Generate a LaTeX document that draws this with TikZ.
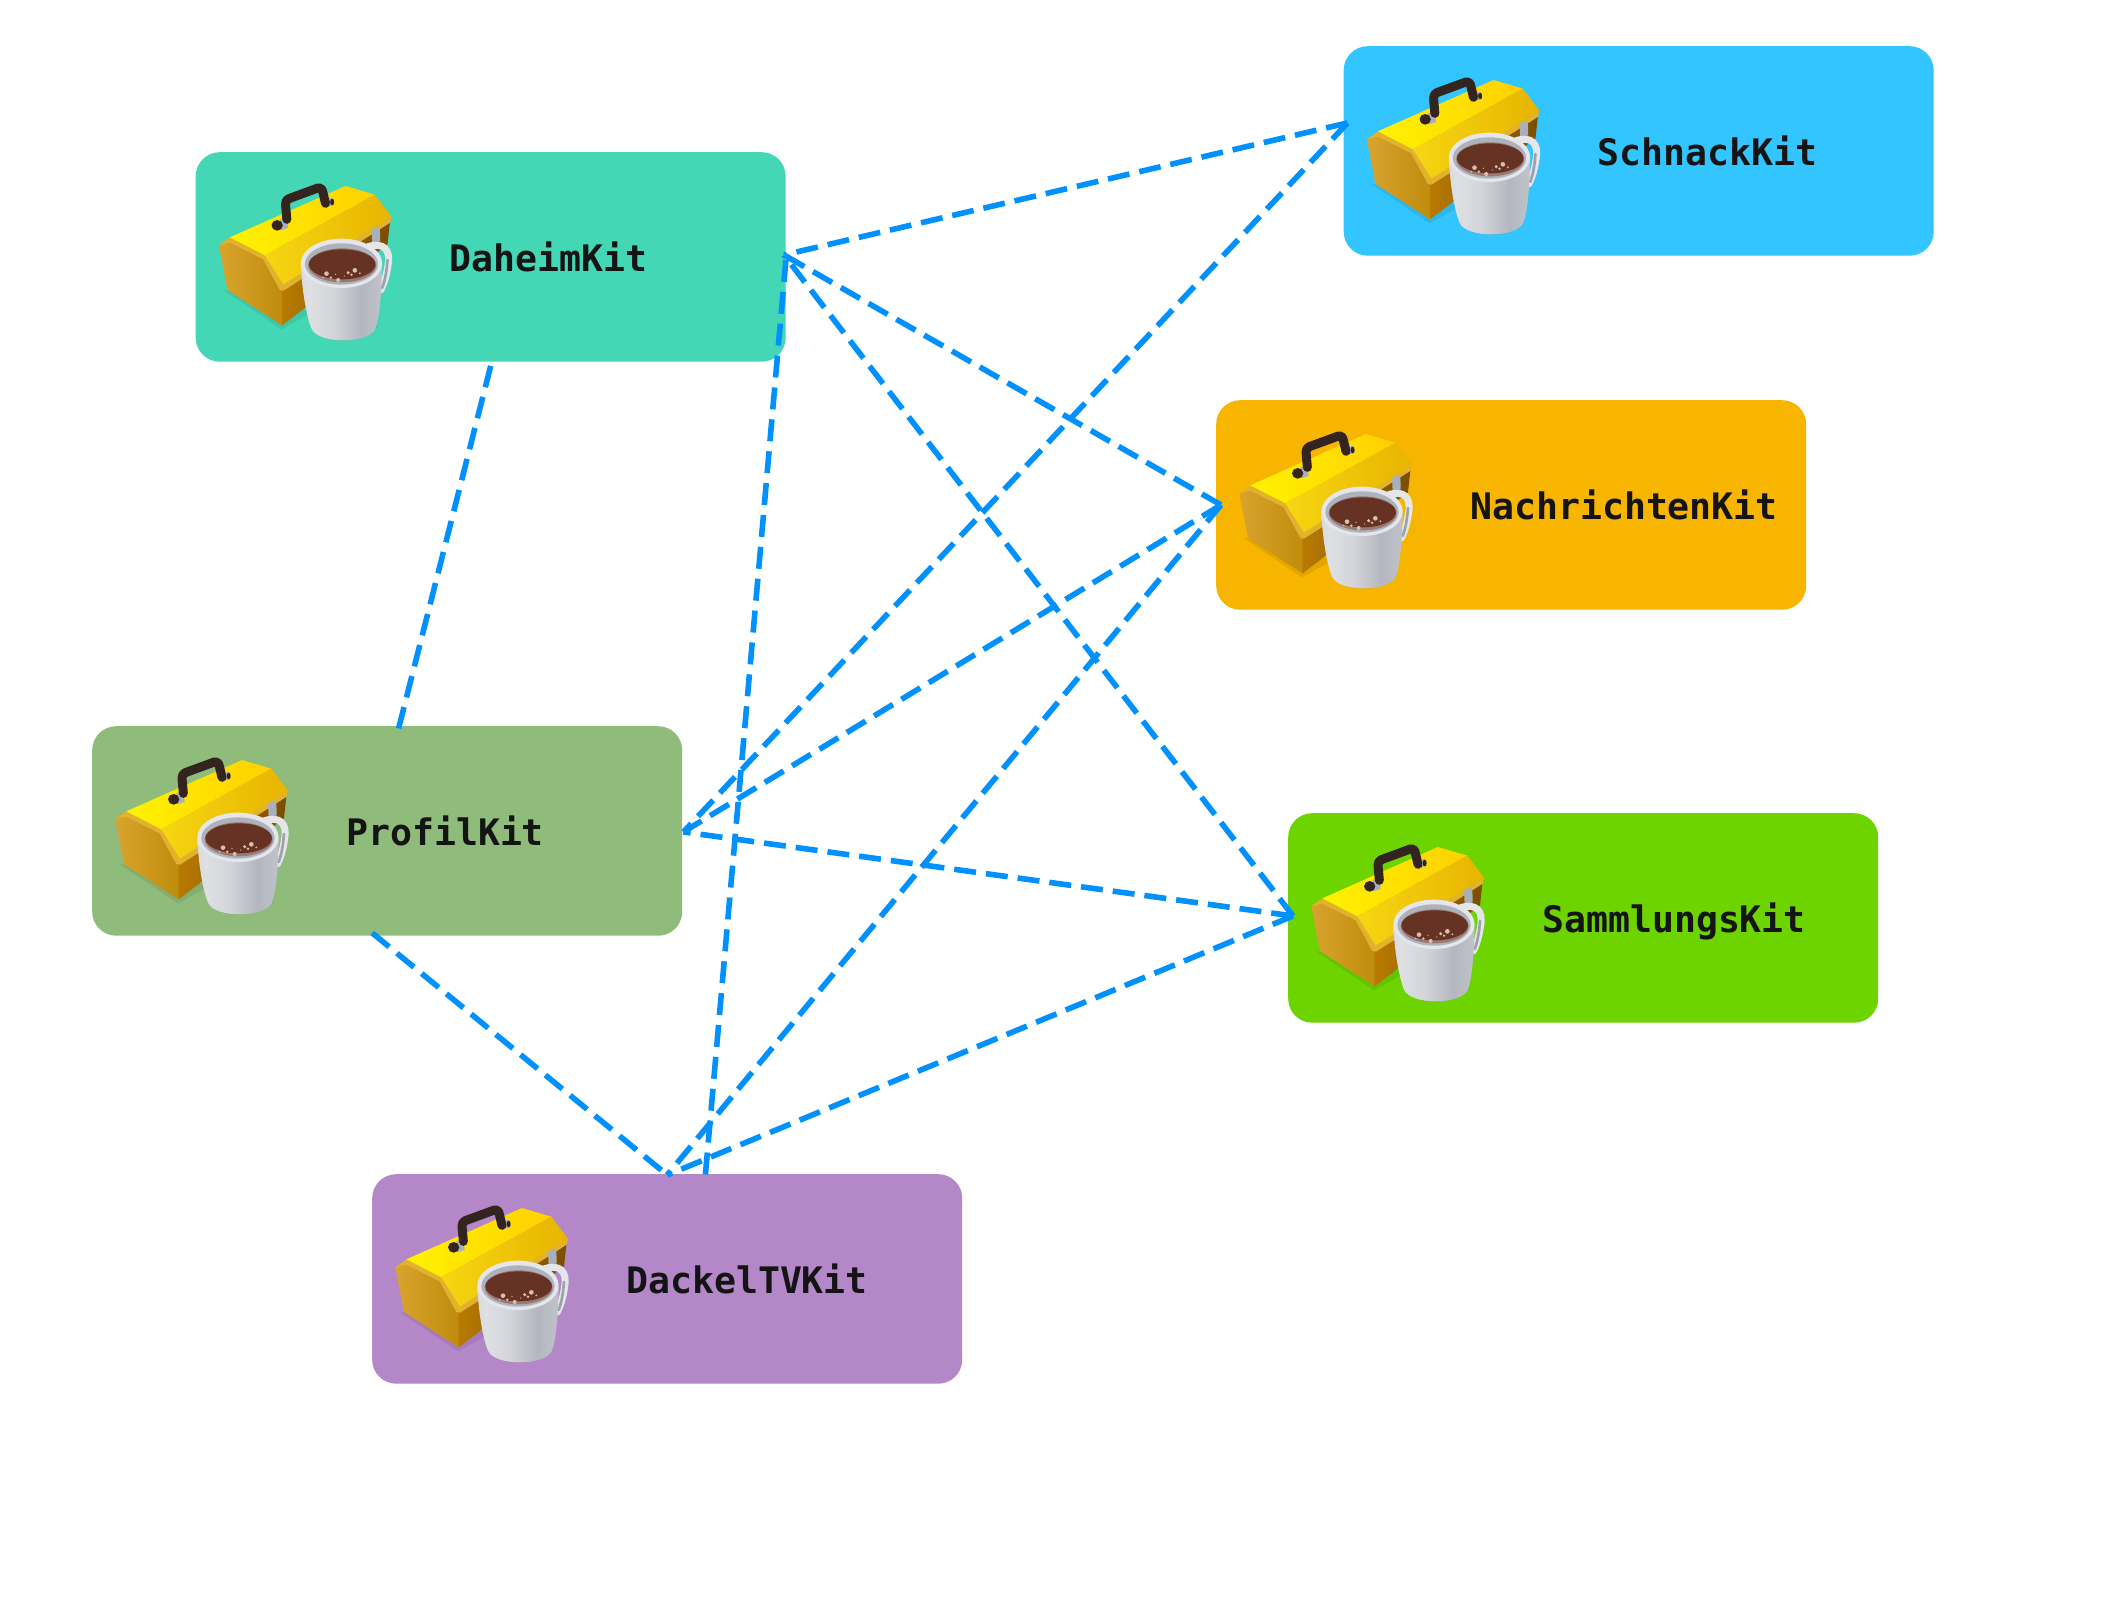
\documentclass[tikz,border=0pt]{standalone}
\usepackage{fontspec}
\setmonofont{DejaVu Sans Mono}
\usetikzlibrary{calc}
\definecolor{cDaheim}{HTML}{44D7B6}
\definecolor{cSchnack}{HTML}{32C5FF}
\definecolor{cNach}{HTML}{F7B500}
\definecolor{cProfil}{HTML}{8FBC7B}
\definecolor{cSamm}{HTML}{6DD400}
\definecolor{cDackel}{HTML}{B487C9}
\definecolor{cLine}{HTML}{0091FF}
\definecolor{cBoxA}{HTML}{B87A00}
\definecolor{cBoxB}{HTML}{7A4E00}
\definecolor{cEndA}{HTML}{D9A42E}
\definecolor{cEndB}{HTML}{C08C0C}
\definecolor{cRim}{HTML}{E3B22C}
\definecolor{cTopA}{HTML}{FFF200}
\definecolor{cTopB}{HTML}{FFD000}
\definecolor{cSlopeA}{HTML}{F6D612}
\definecolor{cSlopeB}{HTML}{E8B400}
\definecolor{cSilver}{HTML}{A9B0BC}
\definecolor{cHandle}{HTML}{33241F}
\definecolor{cMugE}{HTML}{AEB2BC}
\definecolor{cMugL}{HTML}{E4E6EC}
\definecolor{cMugG}{HTML}{7C8290}
\definecolor{cCoffee}{HTML}{663224}
\definecolor{cCoffeeL}{HTML}{9A7A70}
\definecolor{cFoam}{HTML}{D9BFB2}
\pgfdeclarehorizontalshading{mugshade}{100bp}{
  color(0bp)=(white!50!cMugG);
  color(30bp)=(white!75!cMugG);
  color(45bp)=(white!66!cMugG);
  color(62bp)=(white!42!cMugG);
  color(75bp)=(white!52!cMugG);
  color(100bp)=(white!20!cMugG)}
\tikzset{
  kitbox/.style={anchor=north west,minimum width=590pt,minimum height=209.5pt,inner sep=0pt,rounded corners=24pt,draw=none},
  kitlabel/.style={anchor=base west,inner sep=0pt,text=black!92,font=\fontsize{36.5pt}{40pt}\selectfont\ttfamily\bfseries},
  linkline/.style={draw=cLine,line width=5.6pt,dash pattern=on 22pt off 10pt},
  kiticon/.pic={
    \begin{scope}[shift={(16,14)}]
    \begin{scope}[x=0.33333pt,y=-0.33333pt]
      % cast shadow
      \fill[black,opacity=.08] (35,372) -- (210,490) -- (300,440) -- (215,400) -- cycle;
      \fill[black,opacity=.08] (300,490) .. controls (340,538) and (460,538) .. (500,480) -- cycle;
      % long front side
      \shade[left color=cBoxA,right color=cBoxB] (212,372) -- (535,170) -- (528,235) -- (212,478) -- cycle;
      % gable end
      \shade[left color=cEndA,right color=cEndB] (22,238) -- (55,222) -- (160,275) -- (212,372) -- (212,478) -- (48,372) -- cycle;
      % rim along gable
      \fill[cRim] (22,238) -- (55,214) -- (160,268) -- (216,352) -- (216,374) -- (205,372) -- (155,280) -- (55,230) -- cycle;
      % lid top
      \shade[left color=cTopA,right color=cTopB] (55,214) -- (402,60) -- (490,86) -- (160,268) -- cycle;
      % lid front slope
      \shade[left color=cSlopeA,right color=cSlopeB] (160,268) -- (490,86) -- (540,152) -- (216,356) -- cycle;
      \fill[cRim] (216,356) -- (540,152) -- (536,170) -- (216,374) -- cycle;
      % latch
      \fill[cSilver] (480,190) -- (505,182) -- (506,226) -- (482,234) -- cycle;
      % handle rivets
      \fill[cSilver] (205,160) -- (226,154) -- (230,186) -- (208,193) -- cycle;
      \fill[cHandle] (197,178) ellipse (17 and 16);
      \fill[cSilver] (346,98) -- (362,96) -- (368,116) -- (350,122) -- cycle;
      \fill[cHandle] (362,108) ellipse (6 and 10);
      % handle
      \draw[cHandle,line width=9pt,line cap=round,line join=round,rounded corners=4pt] (226,160) -- (221,102) -- (330,62) -- (342,112);
      % mug handle
      \draw[white!80!cMugG,line width=7pt,line cap=round] (470,242) .. controls (515,228) and (538,250) .. (530,295) .. controls (525,330) and (518,350) .. (508,372);
      \draw[white!25!cMugG,line width=2.6pt,line cap=round] (528,282) .. controls (525,320) and (520,345) .. (512,366);
      % mug body
      \shade[shading=mugshade]
        (268,295) .. controls (272,380) and (285,450) .. (300,488)
        .. controls (320,535) and (470,535) .. (492,488)
        .. controls (505,450) and (510,380) .. (512,295) -- cycle;
      % rim
      \fill[cMugL] (390,292) ellipse (122 and 74);
      \fill[cMugE] (390,294) ellipse (110 and 62);
      % coffee
      \fill[cCoffeeL] (392,298) ellipse (102 and 51);
      \fill[cCoffee] (392,295) ellipse (100 and 45);
      % foam
      \foreach \bx/\by/\br in {345/323/7,358/335/4,380/342/6,410/320/5,430/313/7,420/326/4,445/322/3,398/330/2,372/325/2,335/335/3}
        \fill[cFoam] (\bx,\by) circle (\br);
    \end{scope}
    \end{scope}
  }
}
\begin{document}
\begin{tikzpicture}[x=1pt,y=-1pt]
\useasboundingbox (0,0) rectangle (2128,1624);
\fill[white] (0,0) rectangle (2128,1624);
% boxes
\node[kitbox,fill=cDaheim] (daheim) at (195.5,152) {};
\node[kitbox,fill=cSchnack] (schnack) at (1343.5,46) {};
\node[kitbox,fill=cNach] (nachrichten) at (1216,400) {};
\node[kitbox,fill=cProfil] (profil) at (92,726) {};
\node[kitbox,fill=cSamm] (sammlungs) at (1288,813) {};
\node[kitbox,fill=cDackel] (dackel) at (372,1174) {};
% icons
\foreach \boxname in {daheim,schnack,nachrichten,profil,sammlungs,dackel}
  \pic at (\boxname.north west) {kiticon};
% labels
\node[kitlabel] (daheimtext) at ($(daheim.north west)+(254,119.5)$) {DaheimKit};
\node[kitlabel] (schnacktext) at ($(schnack.north west)+(254,119.5)$) {SchnackKit};
\node[kitlabel] (nachrichtentext) at ($(nachrichten.north west)+(254,119.5)$) {NachrichtenKit};
\node[kitlabel] (profiltext) at ($(profil.north west)+(254,119.5)$) {ProfilKit};
\node[kitlabel] (sammlungstext) at ($(sammlungs.north west)+(254,119.5)$) {SammlungsKit};
\node[kitlabel] (dackeltext) at ($(dackel.north west)+(254,119.5)$) {DackelTVKit};
% ports
\coordinate (daheimout) at ($(daheim.east)+(-2,-2)$);
\coordinate (daheimin) at ($(daheim.east)+(0,3)$);
\coordinate (daheimlow) at ($(daheim.south)+(0,4)$);
\coordinate (profilup) at ($(profil.north)+(11,4)$);
\coordinate (profilout) at ($(profil.east)+(1,1)$);
\coordinate (profillow) at ($(profil.south)+(-15,-3)$);
\coordinate (dackeltop) at ($(dackel.north)+(0,1)$);
\coordinate (dackelup) at ($(dackel.north)+(38,3)$);
\coordinate (schnackin) at ($(schnack.west)+(4,-28)$);
\coordinate (nachin) at ($(nachrichten.west)+(5,0)$);
\coordinate (sammin) at ($(sammlungs.west)+(5,-2)$);
% connectors: the dashes run from the far end of each line
\draw[linkline] (daheimlow) -- (profilup);
\draw[linkline] (schnackin) -- (daheimout);
\draw[linkline] (nachin) -- (daheimout);
\draw[linkline] (sammin) -- (daheimout);
\draw[linkline] (daheimin) -- (dackelup);
\draw[linkline] (schnackin) -- (profilout);
\draw[linkline] (nachin) -- (profilout);
\draw[linkline] (sammin) -- (profilout);
\draw[linkline] (profillow) -- (dackeltop);
\draw[linkline] (nachin) -- (dackeltop);
\draw[linkline] (sammin) -- (dackeltop);
\end{tikzpicture}
\end{document}
